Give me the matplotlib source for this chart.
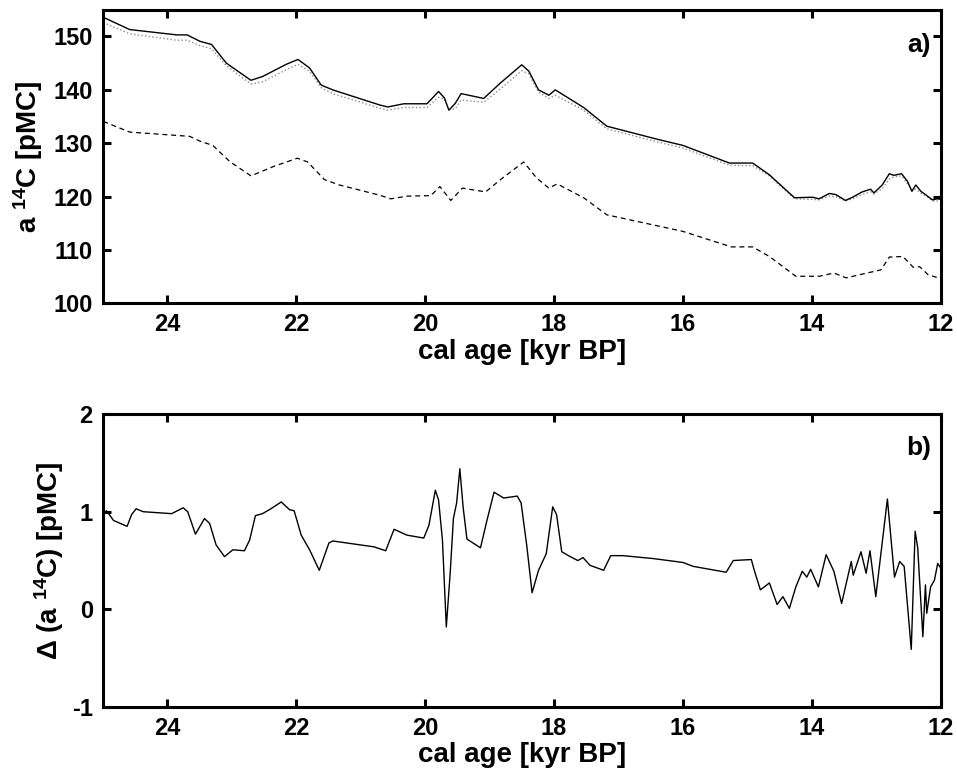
import numpy as np
import matplotlib
matplotlib.use("Agg")
import matplotlib.pyplot as plt

plt.rcParams['font.family'] = ['Liberation Sans', 'DejaVu Sans']
plt.rcParams['font.weight'] = 'bold'
plt.rcParams['mathtext.fontset'] = 'custom'
plt.rcParams['mathtext.rm'] = 'Liberation Sans:bold'
plt.rcParams['mathtext.bf'] = 'Liberation Sans:bold'
plt.rcParams['mathtext.default'] = 'bf'
plt.rcParams['axes.unicode_minus'] = False

# panel a) solid curve
age_a = [24.99, 24.58, 23.85, 23.69, 23.49, 23.31, 23.08, 22.70, 22.52, 22.15,
         21.97, 21.79, 21.61, 21.43, 20.71, 20.58, 20.33, 19.97, 19.79, 19.70,
         19.63, 19.53, 19.44, 19.09, 18.83, 18.50, 18.39, 18.24, 18.08, 17.98,
         17.54, 17.18, 16.38, 16.00, 15.28, 14.92, 14.66, 14.27, 13.99, 13.89,
         13.73, 13.63, 13.48, 13.37, 13.22, 13.09, 13.04, 12.91, 12.80, 12.73,
         12.61, 12.52, 12.45, 12.39, 12.31, 12.24, 12.13, 12.06, 12.00]
a14c_solid = [153.6, 151.3, 150.3, 150.3, 149.1, 148.5, 145.0, 141.8, 142.5, 144.8,
              145.7, 144.1, 140.9, 140.0, 137.2, 136.8, 137.4, 137.4, 139.7, 138.5,
              136.2, 137.5, 139.3, 138.4, 141.3, 144.7, 143.5, 140.0, 139.0, 140.0,
              136.7, 133.2, 130.7, 129.6, 126.3, 126.3, 124.1, 119.8, 119.9, 119.6,
              120.6, 120.4, 119.3, 119.9, 120.9, 121.4, 120.7, 122.2, 124.3, 124.0,
              124.3, 122.9, 121.0, 122.2, 121.0, 120.4, 119.4, 119.6, 119.5]
a14c_dotted = [152.6, 150.5, 149.3, 149.3, 148.3, 147.7, 144.5, 141.1, 141.5, 143.8,
               144.8, 143.5, 140.4, 139.3, 136.6, 136.2, 136.7, 136.7, 138.6, 138.3,
               136.3, 136.5, 138.1, 137.7, 140.2, 143.6, 143.0, 139.6, 138.4, 139.0,
               136.2, 132.7, 130.2, 129.1, 125.9, 125.8, 123.9, 119.6, 119.5, 119.4,
               120.1, 120.0, 119.2, 119.6, 120.4, 120.9, 120.5, 121.5, 123.3, 123.7,
               123.9, 122.5, 121.3, 121.4, 120.7, 120.2, 119.2, 119.2, 119.1]

# panel a) dashed curve
age_dash = [24.99, 24.58, 23.65, 23.49, 23.29, 23.03, 22.70, 22.34, 21.98, 21.82,
            21.56, 21.33, 20.71, 20.53, 20.28, 19.91, 19.77, 19.60, 19.42, 19.06,
            18.83, 18.47, 18.27, 18.08, 17.95, 17.54, 17.18, 16.38, 16.00, 15.25,
            14.92, 14.66, 14.25, 13.89, 13.66, 13.47, 13.22, 12.93, 12.80, 12.59,
            12.43, 12.33, 12.20, 12.07, 12.00]
a14c_dash = [134.1, 132.1, 131.3, 130.4, 129.6, 126.6, 123.9, 125.7, 127.2, 126.5,
             123.2, 122.2, 120.3, 119.6, 120.1, 120.2, 121.9, 119.3, 121.6, 120.9,
             123.2, 126.5, 123.5, 121.6, 122.4, 119.8, 116.6, 114.5, 113.5, 110.6,
             110.6, 108.8, 105.1, 105.1, 105.7, 104.8, 105.5, 106.3, 108.7, 108.8,
             106.8, 106.9, 105.4, 104.9, 104.9]

# panel b) difference curve
age_b = [25.00, 24.94, 24.83, 24.62, 24.55, 24.48, 24.37, 23.93, 23.75, 23.68,
         23.56, 23.42, 23.34, 23.24, 23.11, 22.98, 22.80, 22.72, 22.63, 22.52,
         22.39, 22.23, 22.10, 22.03, 21.92, 21.79, 21.64, 21.49, 21.43, 20.79,
         20.61, 20.48, 20.28, 20.02, 19.94, 19.84, 19.79, 19.73, 19.67, 19.61,
         19.56, 19.51, 19.46, 19.41, 19.35, 19.14, 19.04, 18.93, 18.78, 18.57,
         18.51, 18.42, 18.34, 18.24, 18.12, 18.02, 17.96, 17.88, 17.75, 17.63,
         17.55, 17.44, 17.23, 17.12, 16.93, 16.46, 16.00, 15.84, 15.33, 15.22,
         14.94, 14.89, 14.80, 14.66, 14.54, 14.45, 14.35, 14.25, 14.15, 14.08,
         14.02, 13.90, 13.78, 13.66, 13.54, 13.39, 13.36, 13.24, 13.16, 13.10,
         13.01, 12.83, 12.72, 12.64, 12.57, 12.46, 12.40, 12.36, 12.28, 12.24,
         12.22, 12.16, 12.10, 12.05, 12.00]
delta_b = [0.97, 1.01, 0.91, 0.85, 0.97, 1.03, 1.00, 0.98, 1.04, 1.00,
           0.77, 0.93, 0.88, 0.66, 0.54, 0.61, 0.60, 0.71, 0.96, 0.98,
           1.03, 1.10, 1.02, 1.01, 0.76, 0.61, 0.40, 0.68, 0.70, 0.64,
           0.60, 0.82, 0.76, 0.73, 0.86, 1.22, 1.12, 0.71, -0.18, 0.37,
           0.93, 1.09, 1.44, 1.05, 0.72, 0.63, 0.91, 1.20, 1.14, 1.16,
           1.09, 0.64, 0.17, 0.40, 0.57, 1.05, 0.97, 0.59, 0.54, 0.50,
           0.53, 0.45, 0.40, 0.55, 0.55, 0.52, 0.48, 0.44, 0.38, 0.50,
           0.51, 0.39, 0.20, 0.27, 0.05, 0.13, 0.01, 0.23, 0.39, 0.33,
           0.41, 0.23, 0.56, 0.39, 0.06, 0.49, 0.35, 0.59, 0.37, 0.60,
           0.13, 1.13, 0.33, 0.49, 0.44, -0.41, 0.80, 0.63, -0.28, 0.25,
           -0.04, 0.23, 0.30, 0.47, 0.42]

xticks = [24, 22, 20, 18, 16, 14, 12]

fig = plt.figure(figsize=(9.57, 7.77), dpi=100)
ax1 = fig.add_axes([0.1072, 0.6094, 0.876, 0.378])
ax2 = fig.add_axes([0.1072, 0.0901, 0.876, 0.377])

ax1.plot(age_a, a14c_dotted, color='0.55', linestyle=':', linewidth=1.0)
ax1.plot(age_a, a14c_solid, color='black', linewidth=1.0)
ax1.plot(age_dash, a14c_dash, color='black', linestyle=(0, (4, 3)), linewidth=0.9)
ax1.set_ylim(100, 155)
ax1.set_yticks([100, 110, 120, 130, 140, 150])
ax1.set_ylabel(r'a $^{14}$C [pMC]', fontsize=20, fontweight='bold', labelpad=6)
ax1.text(0.988, 0.88, 'a)', transform=ax1.transAxes, ha='right', va='center',
         fontsize=19, fontweight='bold')

ax2.plot(age_b, delta_b, color='black', linewidth=1.0)
ax2.set_ylim(-1, 2)
ax2.set_yticks([-1, 0, 1, 2])
ax2.set_ylabel(r'Δ (a $^{14}$C) [pMC]', fontsize=20, fontweight='bold')
ax2.text(0.988, 0.884, 'b)', transform=ax2.transAxes, ha='right', va='center',
         fontsize=19, fontweight='bold')

for ax in (ax1, ax2):
    ax.set_xlim(25, 12)
    ax.set_xticks(xticks)
    ax.set_xlabel('cal age [kyr BP]', fontsize=20, fontweight='bold', labelpad=2)
    ax.tick_params(direction='in', length=6, width=2.2, labelsize=17,
                   top=True, right=True, pad=7)
    for lab in ax.get_xticklabels() + ax.get_yticklabels():
        lab.set_fontweight('bold')
    for sp in ax.spines.values():
        sp.set_linewidth(2.2)

fig.savefig('out.png', dpi=100)
